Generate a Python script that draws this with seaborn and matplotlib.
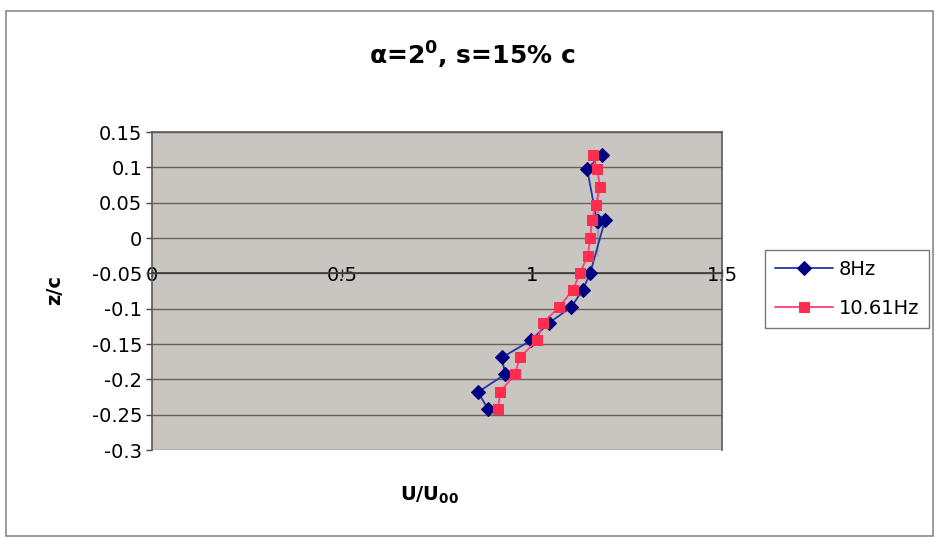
import numpy as np
import pandas as pd
import matplotlib
matplotlib.use("Agg")
import matplotlib.pyplot as plt
from matplotlib.patches import Rectangle
from matplotlib.ticker import FixedLocator, FixedFormatter
import seaborn as sns

# ---- data ----
z_8hz = [0.118, 0.098, 0.072, 0.047, 0.025, 0.0, -0.025, -0.05, -0.073, -0.098,
         -0.12, -0.145, -0.169, -0.193, -0.218, -0.242]
u_8hz = [1.184, 1.145, 1.171, 1.174, 1.192, 1.174, 1.171, 1.153, 1.134, 1.103,
         1.045, 0.997, 0.921, 0.929, 0.858, 0.884]

z_1061 = [0.118, 0.098, 0.072, 0.047, 0.025, 0.0, -0.025, -0.05, -0.073, -0.098,
          -0.12, -0.145, -0.169, -0.193, -0.218, -0.242]
u_1061 = [1.161, 1.171, 1.179, 1.168, 1.158, 1.153, 1.147, 1.126, 1.108, 1.071,
          1.029, 1.013, 0.968, 0.955, 0.916, 0.911]

series_names = ["8Hz", "10.61Hz"]
x_ticks = [0, 0.5, 1, 1.5]
x_tick_labels = ["0", "0.5", "1", "1.5"]
y_ticks = [0.15, 0.1, 0.05, 0, -0.05, -0.1, -0.15, -0.2, -0.25, -0.3]
y_tick_labels = ["0.15", "0.1", "0.05", "0", "-0.05", "-0.1", "-0.15", "-0.2", "-0.25", "-0.3"]
title = "α=2$^{0}$, s=15% c"
xlabel = "U/U$_{00}$"
ylabel = "z/c"

# ---- style ----
sns.set_theme(style="white")
plt.rcParams["font.family"] = ["DejaVu Sans"]
plt.rcParams["mathtext.fontset"] = "custom"
plt.rcParams["mathtext.rm"] = "DejaVu Sans:bold"
plt.rcParams["mathtext.it"] = "DejaVu Sans:bold"
plt.rcParams["mathtext.bf"] = "DejaVu Sans:bold"
plt.rcParams["text.color"] = "black"
plt.rcParams["xtick.color"] = "black"
plt.rcParams["ytick.color"] = "black"
plt.rcParams["xtick.labelcolor"] = "black"
plt.rcParams["ytick.labelcolor"] = "black"

W, H = 935, 538
fig = plt.figure(figsize=(W / 100, H / 100), dpi=100)
fig.patch.set_facecolor("white")

# chart border
fig.patches.append(Rectangle((6 / W, 2 / H), (W - 8) / W, (H - 13) / H,
                             transform=fig.transFigure, fill=False,
                             edgecolor="#8a8a8a", linewidth=1.2))

left, right, top, bottom = 152, 722, 132, 450
ax = fig.add_axes([left / W, 1 - bottom / H, (right - left) / W, (bottom - top) / H])
ax.set_facecolor("#c9c5c0")

df1 = pd.DataFrame({"u": u_8hz, "z": z_8hz})
df2 = pd.DataFrame({"u": u_1061, "z": z_1061})

sns.lineplot(data=df1, x="u", y="z", sort=False, ax=ax, color="#2236a8",
             linewidth=1.3, marker="D", markersize=7, markerfacecolor="#000080",
             markeredgecolor="#000080", label=series_names[0], zorder=3)
sns.lineplot(data=df2, x="u", y="z", sort=False, ax=ax, color="#ff3f7a",
             linewidth=1.3, marker="s", markersize=7.5, markerfacecolor="#ff2d4f",
             markeredgecolor="#ff2d4f", label=series_names[1], zorder=4)

ax.set_xlim(0, 1.5)
ax.set_ylim(-0.3, 0.15)

# horizontal gridlines
for yv in y_ticks:
    ax.axhline(yv, color="#6a625c", linewidth=1.0, zorder=1)

for s in ["top", "right", "left"]:
    ax.spines[s].set_color("#5a5a5a")
    ax.spines[s].set_linewidth(1.2)
ax.spines["bottom"].set_position(("data", -0.05))
ax.spines["bottom"].set_color("#3a3a3a")
ax.spines["bottom"].set_linewidth(1.2)

ax.yaxis.set_major_locator(FixedLocator(y_ticks))
ax.yaxis.set_major_formatter(FixedFormatter(y_tick_labels))
ax.xaxis.set_major_locator(FixedLocator(x_ticks))
ax.xaxis.set_major_formatter(FixedFormatter(x_tick_labels))

ax.tick_params(axis="y", direction="out", length=4, width=1, color="#444444",
               labelsize=14, pad=3, left=True, labelcolor="black")
ax.tick_params(axis="x", direction="inout", length=6, width=1, color="#222222",
               labelsize=14, pad=-8, bottom=True, labelcolor="black")
for lab in ax.get_xticklabels():
    lab.set_zorder(5)

ax.set_xlabel("")
ax.set_ylabel("")
fig.text(472 / W, 1 - 55 / H, title, ha="center", va="center",
         fontsize=18, fontweight="bold", color="black")
fig.text(430 / W, 1 - 495 / H, xlabel, ha="center", va="center",
         fontsize=14, fontweight="bold", color="black")
fig.text(55 / W, 1 - 290 / H, ylabel, ha="center", va="center",
         fontsize=14, fontweight="bold", rotation=90, color="black")

leg = ax.legend(loc="upper left", bbox_to_anchor=(765 / W, 1 - 250 / H),
                bbox_transform=fig.transFigure, frameon=True, fancybox=False,
                fontsize=14, handlelength=3.0, borderpad=0.5, labelspacing=1.05,
                handletextpad=0.3, borderaxespad=0)
leg.get_frame().set_edgecolor("#555555")
leg.get_frame().set_linewidth(1.0)
for t in leg.get_texts():
    t.set_color("black")

fig.savefig("out.png", dpi=100)
